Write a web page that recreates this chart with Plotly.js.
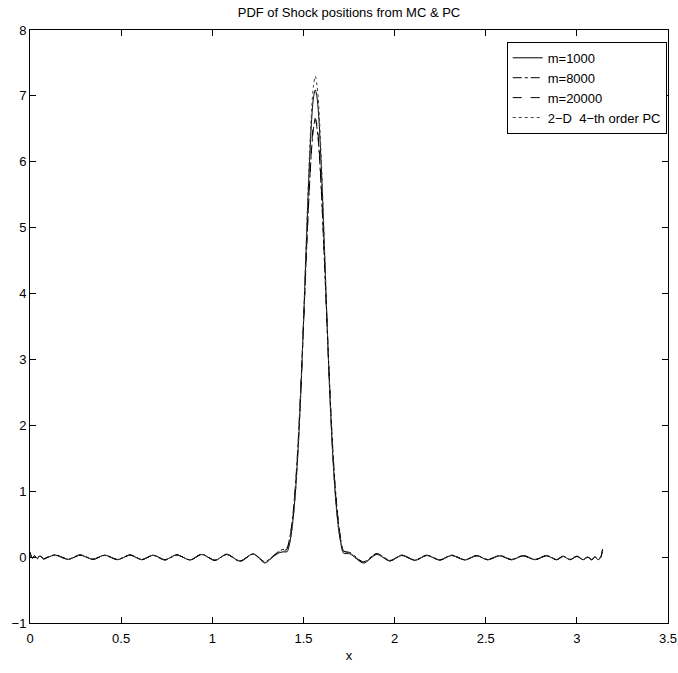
<!DOCTYPE html>
<html>
<head>
<meta charset="utf-8">
<script src="https://cdn.plot.ly/plotly-3.0.1.min.js"></script>
<style>html,body{margin:0;padding:0;background:#fff;}#chart{width:678px;height:673px;}</style>
</head>
<body>
<div id="chart"></div>
<script>
// Shared x grid (extrema of the baseline ripples and samples across the peak)
var xGrid = [0, 0.012, 0.025, 0.04, 0.055, 0.075, 0.1, 0.14, 0.21, 0.275, 0.345, 0.41, 0.48, 0.549, 0.613, 0.676, 0.74, 0.805, 0.878, 0.942, 1.015, 1.079, 1.152, 1.225, 1.289, 1.33, 1.371, 1.395,
  1.41, 1.425, 1.44, 1.455, 1.47, 1.485, 1.5, 1.515, 1.53, 1.545, 1.555, 1.565, 1.575, 1.585, 1.6, 1.615, 1.63, 1.645, 1.66, 1.675, 1.69, 1.705, 1.72,
  1.755, 1.83, 1.902, 1.975, 2.039, 2.112, 2.176, 2.249, 2.313, 2.386, 2.45, 2.51, 2.578, 2.642, 2.706, 2.77, 2.834, 2.889, 2.925, 2.962, 3.0, 3.035, 3.06, 3.081, 3.1, 3.116, 3.13, 3.1416];

var seriesNames = ["m=1000", "m=8000", "m=20000", "2\u2212D\u00a0 4\u2212th order PC"];

var yM1000 = [0.08, -0.02, 0.025, -0.025, 0.02, -0.03, 0.0, 0.03, -0.035, 0.03, -0.035, 0.03, -0.04, 0.03, -0.04, 0.03, -0.04, 0.035, -0.045, 0.04, -0.05, 0.045, -0.06, 0.05, -0.09, 0.0, 0.07, 0.08,
  0.08, 0.22, 0.5, 0.95, 1.6, 2.46, 3.53, 4.69, 5.79, 6.64, 6.97, 7.09, 6.97, 6.64, 5.79, 4.69, 3.53, 2.46, 1.6, 0.95, 0.5, 0.22, 0.06,
  0.05, -0.09, 0.04, -0.06, 0.025, -0.05, 0.025, -0.045, 0.025, -0.045, 0.02, -0.04, 0.02, -0.04, 0.02, -0.04, 0.02, -0.04, 0.01, -0.04, 0.01, -0.04, 0.0, -0.04, 0.0, -0.04, -0.01, 0.12];

var yM8000 = [0.06, -0.01, 0.02, -0.02, 0.025, -0.025, 0.005, 0.035, -0.03, 0.035, -0.03, 0.025, -0.035, 0.035, -0.035, 0.025, -0.045, 0.03, -0.04, 0.045, -0.045, 0.04, -0.065, 0.045, -0.07, 0.01, 0.1, 0.12,
  0.14, 0.3, 0.58, 1.05, 1.7, 2.55, 3.5, 4.5, 5.45, 6.2, 6.5, 6.65, 6.5, 6.2, 5.45, 4.5, 3.5, 2.55, 1.7, 1.05, 0.58, 0.26, 0.09,
  0.07, -0.07, 0.055, -0.05, 0.03, -0.045, 0.03, -0.04, 0.03, -0.04, 0.025, -0.035, 0.025, -0.035, 0.025, -0.035, 0.025, -0.035, 0.015, -0.035, 0.015, -0.035, 0.005, -0.035, 0.005, -0.035, 0.0, 0.1];

var yM20000 = [0.07, -0.015, 0.02, -0.02, 0.02, -0.025, 0.0, 0.03, -0.035, 0.03, -0.035, 0.03, -0.035, 0.03, -0.04, 0.03, -0.04, 0.035, -0.045, 0.04, -0.05, 0.04, -0.06, 0.05, -0.08, 0.0, 0.09, 0.1,
  0.12, 0.28, 0.55, 1.0, 1.65, 2.5, 3.5, 4.55, 5.5, 6.25, 6.55, 6.66, 6.55, 6.25, 5.5, 4.55, 3.5, 2.5, 1.65, 1.0, 0.58, 0.27, 0.1,
  0.06, -0.08, 0.05, -0.055, 0.03, -0.05, 0.025, -0.045, 0.025, -0.04, 0.02, -0.04, 0.02, -0.04, 0.02, -0.04, 0.02, -0.04, 0.01, -0.04, 0.01, -0.04, 0.0, -0.04, 0.0, -0.04, -0.01, 0.13];

var yPC = [0.05, -0.01, 0.02, -0.02, 0.02, -0.02, 0.0, 0.03, -0.03, 0.03, -0.03, 0.03, -0.035, 0.03, -0.035, 0.03, -0.04, 0.035, -0.04, 0.04, -0.05, 0.04, -0.055, 0.045, -0.08, 0.0, 0.08, 0.09,
  0.1, 0.22, 0.48, 0.92, 1.58, 2.45, 3.55, 4.75, 5.9, 6.8, 7.15, 7.3, 7.15, 6.8, 5.9, 4.75, 3.55, 2.45, 1.58, 0.92, 0.48, 0.22, 0.08,
  0.06, -0.08, 0.045, -0.055, 0.03, -0.045, 0.025, -0.04, 0.025, -0.04, 0.02, -0.04, 0.02, -0.04, 0.02, -0.035, 0.02, -0.035, 0.01, -0.035, 0.01, -0.035, 0.0, -0.035, 0.0, -0.035, 0.0, 0.1];

var xTicks = [0, 0.5, 1, 1.5, 2, 2.5, 3, 3.5];
var yTicks = [-1, 0, 1, 2, 3, 4, 5, 6, 7, 8];

var ys = [yM1000, yM8000, yM20000, yPC];
var dashes = ["solid", "dashdot", "dash", "dot"];
var colors = ["#000000", "#000000", "#000000", "#444444"];

var traces = ys.map(function (y, i) {
  return {
    x: xGrid, y: y, type: "scatter", mode: "lines", name: seriesNames[i],
    line: {color: colors[i], width: 1, dash: dashes[i], shape: "spline", smoothing: 0.8}
  };
});

var fam = "Liberation Sans, Arial, Helvetica, sans-serif";
var font = {family: fam, size: 13, color: "#000"};

var layout = {
  width: 678, height: 673,
  margin: {l: 30, r: 10, t: 30, b: 50},
  paper_bgcolor: "#fff", plot_bgcolor: "#fff",
  font: font,
  showlegend: true,
  title: {text: "PDF of Shock positions from MC & PC", font: {family: fam, size: 13, color: "#000"},
          x: 0.5, xref: "paper", xanchor: "center", y: 0.982, yanchor: "middle"},
  xaxis: {range: [0, 3.5], tickvals: xTicks, ticktext: xTicks.map(String), ticks: "inside", ticklen: 6,
          tickcolor: "#000", showline: true, linecolor: "#000", linewidth: 1, mirror: "ticks",
          showgrid: false, zeroline: false, ticklabelstandoff: 3,
          title: {text: "x", standoff: 6, font: font}, tickfont: font},
  yaxis: {range: [-1, 8], tickvals: yTicks, ticks: "inside", ticklen: 6,
          tickcolor: "#000", showline: true, linecolor: "#000", linewidth: 1, mirror: "ticks",
          showgrid: false, zeroline: false, tickfont: font},
  legend: {x: 0.998, xanchor: "right", y: 0.98, yanchor: "top", bgcolor: "#fff",
           bordercolor: "#000", borderwidth: 1, font: {family: fam, size: 13, color: "#000"},
           tracegroupgap: 0, itemwidth: 30}
};

Plotly.newPlot("chart", traces, layout, {displayModeBar: false, staticPlot: true});
</script>
</body>
</html>
